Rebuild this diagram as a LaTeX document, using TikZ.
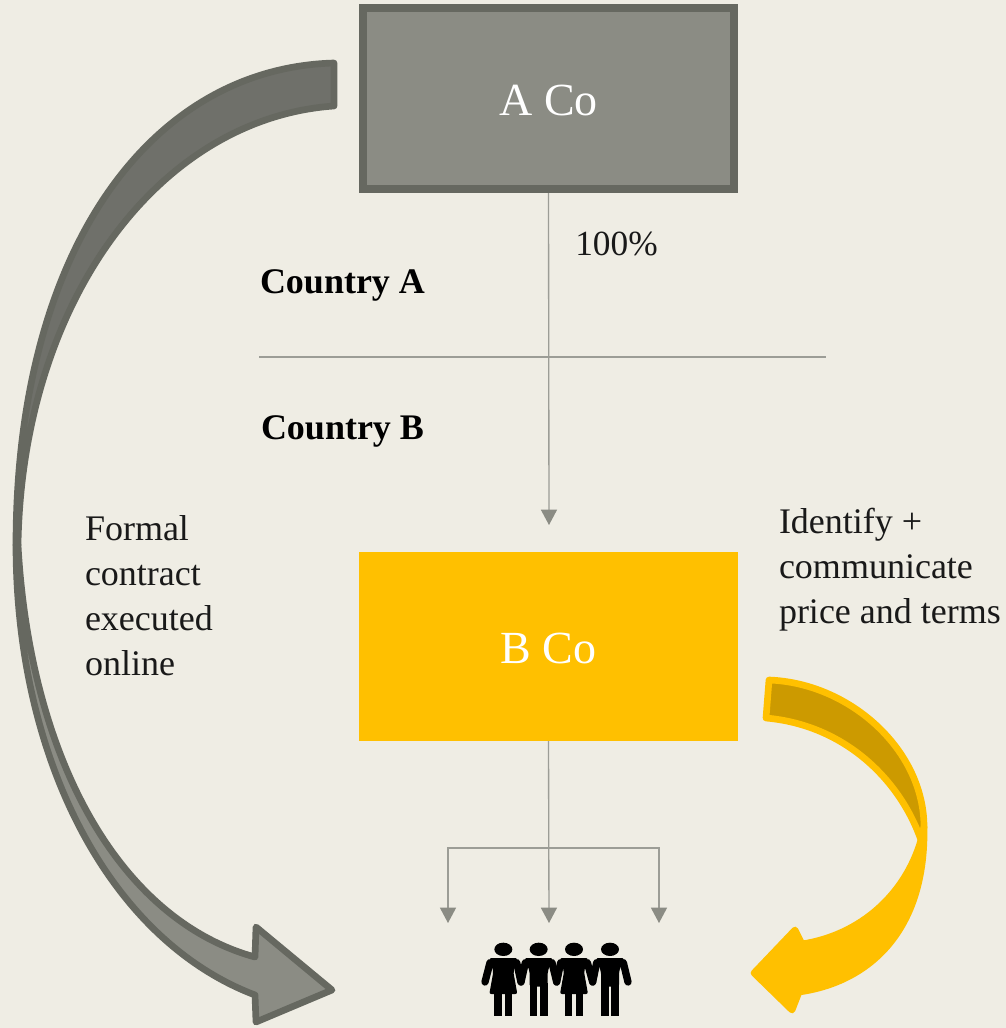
\documentclass[tikz,border=0pt]{standalone}
\usepackage{fontspec}
\setmainfont{Liberation Serif}
\usetikzlibrary{arrows.meta}
\definecolor{bgc}{HTML}{EFEDE4}
\definecolor{grayfill}{HTML}{8B8C84}
\definecolor{grayedge}{HTML}{666860}
\definecolor{graydark}{HTML}{6F706A}
\definecolor{linec}{HTML}{9C9D96}
\definecolor{gold}{HTML}{FFC000}
\definecolor{golddark}{HTML}{CC9A00}
\tikzset{
  boxa/.style={rectangle,draw=grayedge,fill=grayfill,line width=6pt,inner sep=0pt,outer sep=3pt,minimum width=278.25pt,minimum height=135.75pt,text=white,text height=26pt,text depth=0pt,font=\fontsize{34.5}{40}\selectfont},
  boxb/.style={rectangle,fill=gold,inner sep=0pt,outer sep=0pt,minimum width=284.25pt,minimum height=141.75pt,text=white,text height=25pt,text depth=0pt,font=\fontsize{34.5}{40}\selectfont},
  conn/.style={draw=linec,line width=1pt},
  connarrow/.style={conn,-{Triangle[width=12pt,length=11.5pt,fill=grayfill,color=grayfill]}},
  bodytext/.style={inner sep=0pt,outer sep=0pt,align=left,font=\fontsize{27}{33.75}\selectfont,text=black!90},
  boldtext/.style={inner sep=0pt,outer sep=0pt,anchor=base west,font=\fontsize{27}{36}\selectfont\bfseries,text=black},
  grayshape/.style={draw=grayedge,line width=5pt,line join=round},
  goldshape/.style={draw=gold,line width=5pt,line join=round},
  person/.style={fill=black},
  limb/.style={draw=black,line width=5.5pt,line cap=round}
}
\begin{document}
\begin{tikzpicture}[x=0.75pt,y=-0.75pt]
\useasboundingbox[fill=bgc] (0,0) rectangle (1006,1028);

% grey curved arrow
\path[grayshape,fill=graydark] (334,63) .. controls (150,68) and (16,250) .. (16,545)
  -- (18,545) .. controls (22,300) and (160,118) .. (334,106) -- cycle;
\path[grayshape,fill=grayfill] (16,545) .. controls (16,760) and (110,940) .. (255,995)
  -- (256,1022) -- (332,990) -- (256,927) -- (255,957)
  .. controls (120,920) and (30,760) .. (18,545) -- cycle;

% gold curved arrow
\path[goldshape,fill=golddark] (769,680) .. controls (850,683) and (924,750) .. (924,827)
  -- (921,840) .. controls (900,780) and (845,725) .. (766,718) -- cycle;
\path[goldshape,fill=gold] (924,827) .. controls (926,930) and (870,982) .. (799,992)
  -- (792,1010) -- (754,973) -- (795,930) -- (802,944)
  .. controls (860,935) and (905,895) .. (921,840) -- cycle;

% boxes
\node[boxa] (aco) at (548.5,98.5) {A Co};
\node[boxb] (bco) at (548.5,646.5) {B Co};

% connectors
\coordinate (bin) at (549,525);
\coordinate (divl) at (259,357);
\coordinate (divr) at (826,357);
\coordinate (split) at (549,848);
\coordinate (ltop) at (448,848);
\coordinate (rtop) at (659,848);
\coordinate (lend) at (448,923);
\coordinate (mend) at (549,923);
\coordinate (rend) at (659,923);
\draw[connarrow] (aco.south) -- (bin);
\draw[conn] (divl) -- (divr);
\draw[connarrow] (bco.south) -- (mend);
\draw[connarrow] (split) -- (ltop) -- (lend);
\draw[connarrow] (split) -- (rtop) -- (rend);

% labels
\node[inner sep=0pt,anchor=base west,font=\fontsize{26.5}{32}\selectfont,text=black!90] (pct) at (575,255) {100\%};
\node[boldtext] (ca) at (260,293) {Country A};
\node[boldtext] (cb) at (261,439) {Country B};
\node[bodytext,anchor=north west] (formal) at (85,516) {Formal\\contract\\executed\\online};
\node[bodytext,anchor=north west] (identify) at (779,508) {Identify +\\communicate\\price and terms};

% people
\begin{scope}[shift={(430,830)},x=0.25pt,y=-0.25pt]
  \foreach \c in {220,432} {
    \fill[person] (\c,358) ellipse (27 and 20);
    \fill[person,rounded corners=1.5pt] (\c-42,384) -- (\c+42,384) -- (\c+30,425) -- (\c+42,492) -- (\c-42,492) -- (\c-30,425) -- cycle;
    \fill[person] (\c-27,485) rectangle (\c-5,558);
    \fill[person] (\c+5,485) rectangle (\c+27,558);
  }
  \foreach \c in {326,540} {
    \fill[person] (\c,358) ellipse (27 and 20);
    \fill[person,rounded corners=1.5pt] (\c-42,384) -- (\c+42,384) -- (\c+27,425) -- (\c+27,470) -- (\c-27,470) -- (\c-27,425) -- cycle;
    \fill[person] (\c-27,460) rectangle (\c-4,558);
    \fill[person] (\c+4,460) rectangle (\c+27,558);
  }
  \foreach \a/\b in {180/165,260/273,286/273,366/380,392/380,472/488,500/488,580/594} {
    \draw[limb] (\a,398) -- (\b,456);
  }
\end{scope}
\end{tikzpicture}
\end{document}
